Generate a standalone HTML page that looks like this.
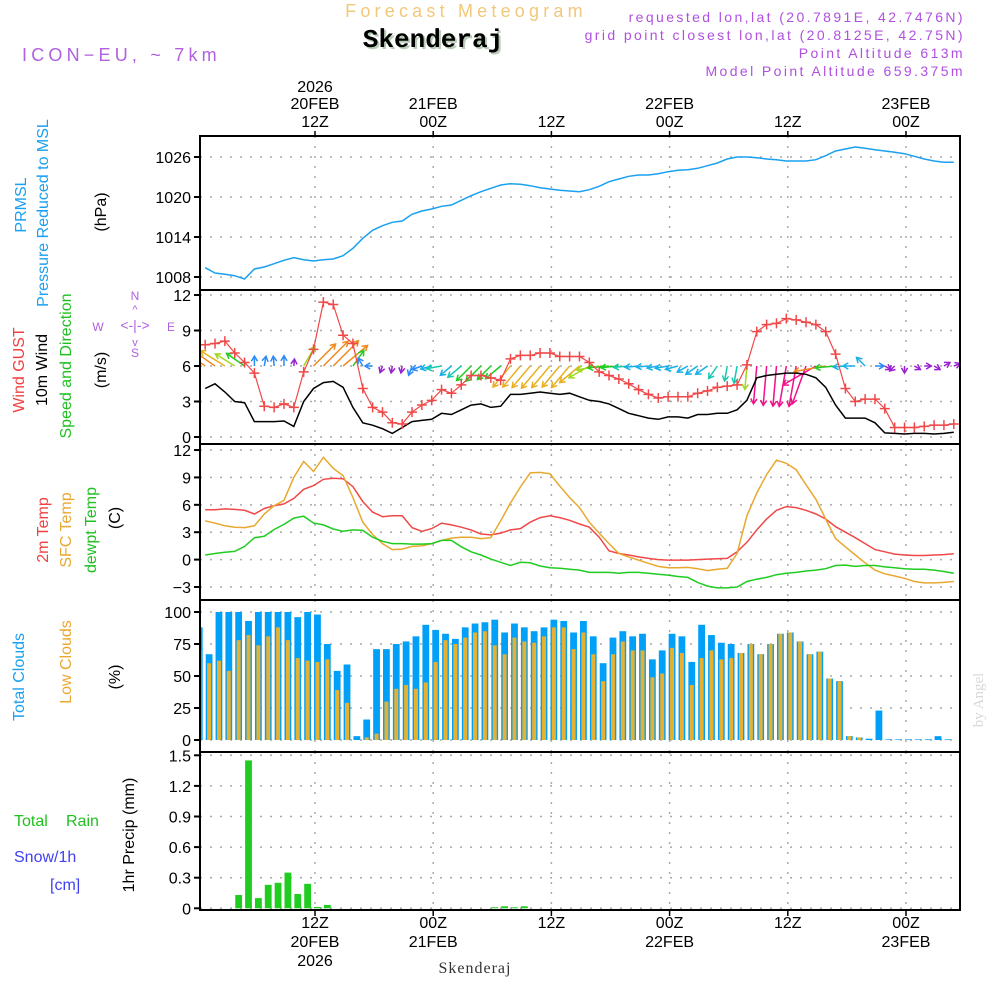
<!DOCTYPE html>
<html><head><meta charset="utf-8"><title>Meteogram Skenderaj</title>
<style>
html,body{margin:0;padding:0;background:#fff;}
svg{display:block;font-family:"Liberation Sans",sans-serif;}
</style></head>
<body>
<svg id="chart" width="1000" height="1000" viewBox="0 0 1000 1000" xmlns="http://www.w3.org/2000/svg">
<rect x="0" y="0" width="1000" height="1000" fill="#fff"/>
<text x="466" y="17" text-anchor="middle" font-size="18" fill="#f2c87a" letter-spacing="4.2">Forecast Meteogram</text>
<text x="435" y="49" text-anchor="middle" font-family="Liberation Mono,monospace" font-weight="bold" font-size="26" fill="#b8ccb8">Skenderaj</text>
<text x="433" y="47" text-anchor="middle" font-family="Liberation Mono,monospace" font-weight="bold" font-size="26" fill="#000">Skenderaj</text>
<text x="22" y="61" font-size="18" fill="#b060e0" letter-spacing="4.2">ICON−EU, ~ 7km</text>
<g font-size="14" fill="#b050e0" text-anchor="end" letter-spacing="2.4">
<text x="965" y="22">requested lon,lat (20.7891E, 42.7476N)</text>
<text x="965" y="40">grid point closest lon,lat (20.8125E, 42.75N)</text>
<text x="965" y="58">Point Altitude 613m</text>
<text x="965" y="76">Model Point Altitude 659.375m</text>
</g>
<g id="grid"></g>
<g id="marks"></g>
<g id="frames"></g>
<g id="labels" font-size="16"></g>
<g font-size="16">
<text transform="translate(26,205) rotate(-90)" text-anchor="middle" fill="#1aa0f0">PRMSL</text>
<text transform="translate(48,213) rotate(-90)" text-anchor="middle" fill="#1aa0f0">Pressure Reduced to MSL</text>
<text transform="translate(106,212) rotate(-90)" text-anchor="middle" fill="#000">(hPa)</text>
<text transform="translate(24,370) rotate(-90)" text-anchor="middle" fill="#f04040">Wind GUST</text>
<text transform="translate(47,370) rotate(-90)" text-anchor="middle" fill="#000">10m Wind</text>
<text transform="translate(71,366) rotate(-90)" text-anchor="middle" fill="#20c020">Speed and Direction</text>
<text transform="translate(106,370) rotate(-90)" text-anchor="middle" fill="#000">(m/s)</text>
<g fill="#b060e0" font-size="12" text-anchor="middle">
<text x="135" y="300">N</text><text x="135" y="357">S</text><text x="98" y="331">W</text><text x="171" y="331">E</text>
<text x="135" y="330" font-size="14">&lt;-|-&gt;</text>
<text x="135" y="313" font-size="11">^</text>
<text x="135" y="346" font-size="11">v</text>
</g>
<text transform="translate(48,530) rotate(-90)" text-anchor="middle" fill="#f04040">2m Temp</text>
<text transform="translate(71,530) rotate(-90)" text-anchor="middle" fill="#e8a830">SFC Temp</text>
<text transform="translate(96,530) rotate(-90)" text-anchor="middle" fill="#20c020">dewpt Temp</text>
<text transform="translate(120,518) rotate(-90)" text-anchor="middle" fill="#000">(C)</text>
<text transform="translate(24,677) rotate(-90)" text-anchor="middle" fill="#1aa0f0">Total Clouds</text>
<text transform="translate(71,662) rotate(-90)" text-anchor="middle" fill="#e8a830">Low Clouds</text>
<text transform="translate(120,677) rotate(-90)" text-anchor="middle" fill="#000">(%)</text>
<text x="14" y="826" fill="#20c020">Total</text>
<text x="66" y="826" fill="#20c020">Rain</text>
<text x="14" y="862" fill="#4040f0">Snow/1h</text>
<text x="50" y="890" fill="#4040f0">[cm]</text>
<text transform="translate(134,835) rotate(-90)" text-anchor="middle" fill="#000">1hr Precip (mm)</text>
<text transform="translate(983,700) rotate(-90)" text-anchor="middle" font-family="Liberation Serif,serif" font-size="15" fill="#d8d8d8">by Angel</text>
<text x="475" y="973" text-anchor="middle" font-family="Liberation Serif,serif" font-size="16" fill="#333" letter-spacing="1">Skenderaj</text>
</g>
</svg>
<script>
// ---- data ----
const pressure = [1009.4,1008.6,1008.4,1008.2,1007.7,1009.2,1009.5,1010,1010.5,1010.9,1010.6,1010.4,1010.6,1010.7,1011.2,1012.3,1013.8,1015,1015.7,1016.2,1016.4,1017.4,1017.9,1018.2,1018.6,1018.8,1019.5,1020.2,1020.8,1021.3,1021.8,1022,1021.9,1021.7,1021.4,1021.2,1021.0,1020.9,1020.8,1021.1,1021.6,1022.3,1022.7,1023.1,1023.3,1023.3,1023.5,1023.8,1024,1024.1,1024.3,1024.7,1025.1,1025.7,1026,1026,1025.9,1025.7,1025.6,1025.4,1025.4,1025.4,1025.6,1026.2,1026.9,1027.2,1027.5,1027.3,1027.1,1026.9,1026.7,1026.5,1026.1,1025.7,1025.4,1025.2,1025.2];
const gust = [7.8,7.9,8.1,7.1,6.3,5.4,2.6,2.5,2.8,2.5,5.5,7.4,11.4,11.2,8.6,7.9,4.1,2.5,2.1,1.2,1.1,2.1,2.7,3.1,4.0,3.7,4.4,5.2,5.2,5.0,4.8,6.6,6.9,6.9,7.1,7.1,6.8,6.8,6.8,6.3,5.5,5.2,4.9,4.5,4.0,3.6,3.3,3.4,3.4,3.4,3.7,3.9,4.2,4.3,4.4,6.1,8.9,9.5,9.6,10.0,9.9,9.7,9.5,8.9,7.0,4.1,3.0,3.2,3.2,2.4,0.8,0.8,0.8,0.9,1.0,1.0,1.1];
const wind10 = [4.1,4.5,3.8,3.0,2.9,1.3,1.3,1.3,1.35,0.9,3.0,4.1,4.6,4.7,4.2,2.5,1.2,1.0,0.7,0.3,0.8,1.3,1.4,1.5,2.0,1.9,2.3,2.7,2.8,2.5,2.6,3.6,3.6,3.7,3.8,3.7,3.6,3.7,3.4,3.1,3.0,2.8,2.4,2.0,1.8,1.6,1.5,1.7,1.7,1.6,1.9,1.9,2.0,2.0,2.3,3.1,5.0,5.2,5.3,5.4,5.4,5.3,5.0,4.2,2.7,1.6,1.6,1.6,1.2,0.35,0.3,0.25,0.3,0.3,0.25,0.3,0.4];
const windDir = [125,125,122,122,125,180,190,175,180,185,210,225,225,225,230,215,150,90,20,10,10,20,70,75,80,50,50,45,45,45,50,40,40,40,40,40,40,40,50,60,80,85,85,85,85,85,80,80,75,60,55,55,35,10,10,5,5,5,5,10,10,20,60,80,85,85,90,135,270,300,45,0,300,270,300,240,250];
const temp2m = [5.45,5.45,5.55,5.5,5.4,5.0,5.6,5.9,6.1,6.7,7.7,8.1,8.8,8.9,8.85,8.0,6.35,5.2,4.7,4.8,4.8,3.5,3.1,3.4,4.0,3.8,3.55,3.25,2.8,2.7,2.9,3.25,3.4,4.1,4.6,4.8,4.6,4.3,3.9,3.55,2.45,0.95,0.67,0.5,0.3,0.13,0.0,-0.05,-0.05,-0.05,0.0,0.05,0.1,0.13,0.85,1.9,3.25,4.45,5.4,5.8,5.7,5.4,5.0,4.45,3.6,3.0,2.4,1.75,1.1,0.85,0.6,0.5,0.45,0.45,0.5,0.55,0.65];
const tempSfc = [4.25,4.0,3.7,3.55,3.5,3.7,5.0,5.9,6.5,9.0,10.75,9.65,11.2,10.0,9.2,6.8,4.1,2.75,1.75,1.1,1.15,1.45,1.5,1.75,2.1,2.35,2.45,2.45,2.3,2.4,4.25,6.2,7.95,9.5,9.55,9.4,8.05,6.8,5.7,4.1,2.9,1.75,0.67,0.3,-0.05,-0.4,-0.75,-0.9,-0.9,-0.85,-1.0,-1.2,-1.05,-0.95,0.67,4.8,7.3,9.3,10.9,10.55,9.85,8.2,6.6,4.45,2.3,1.4,0.5,-0.35,-1.15,-1.55,-1.8,-2.05,-2.4,-2.55,-2.55,-2.5,-2.4];
const dewpoint = [0.5,0.67,0.8,0.9,1.45,2.4,2.55,3.3,3.85,4.55,4.75,4.0,3.8,3.35,3.1,3.25,3.2,2.45,2.0,1.75,1.75,1.7,1.7,1.75,2.1,2.1,1.4,0.85,0.5,0.05,-0.3,-0.65,-0.3,-0.35,-0.7,-0.9,-0.95,-1.05,-1.15,-1.4,-1.4,-1.4,-1.5,-1.4,-1.4,-1.5,-1.6,-1.7,-1.85,-1.95,-2.5,-2.9,-3.1,-3.1,-3.0,-2.4,-2.15,-1.95,-1.65,-1.5,-1.4,-1.25,-1.15,-1.0,-0.65,-0.6,-0.75,-0.65,-0.65,-0.8,-0.9,-1.0,-1.05,-1.05,-1.15,-1.3,-1.5];
const totalClouds = [88,67,100,100,100,93,100,100,100,100,96,100,98,75,54,59,3,16,71,71,75,77,81,90,86,83,79,88,91,92,94,84,91,88,85,88,94,93,84,93,81,60,80,85,81,83,63,70,83,81,61,90,82,76,75,68,75,67,75,83,84,77,67,69,48,46,3,2,1,23,0.5,0.5,0.5,0.5,0.5,3,0.5];
const lowClouds = [70,60,62,54,78,82,74,81,88,78,64,62,61,63,39,29,0,2,5,30,40,43,40,45,61,78,75,80,84,85,74,67,80,77,76,81,88,88,71,84,67,46,67,77,70,70,49,52,72,68,43,64,70,63,64,68,75,67,75,83,84,77,67,69,48,46,3,2,0,0,0,0,0,0,0,0,0];
const precip = [0,0,0,0,0.13,1.45,0.10,0.23,0.25,0.35,0.14,0.24,0.013,0.033,0,0,0,0,0,0,0,0,0,0,0,0,0,0,0,0,0.01,0.02,0.01,0.02];
const pressTicks = [1008,1014,1020,1026];
const windTicks = [0,3,6,9,12];
const tempTicks = [-3,0,3,6,9,12];
const cloudTicks = [0,25,50,75,100];
const precipTicks = ['0','0.3','0.6','0.9','1.2','1.5'];
const timeTicksHours = [12,24,36,48,60,72];
const timeTickHour = ['12Z','00Z','12Z','00Z','12Z','00Z'];
const timeTickDate = ['20FEB','21FEB','','22FEB','','23FEB'];

// ---- axes ----
const PL=200, PR=960;
const X = t => 196.8 + 9.85*t;
const lineT = j => j + 0.85;
const barT = k => k + 0.25;
const panels = [
  {top:136,bot:290,y:v=>157+(1026-v)*40/6},
  {top:290,bot:444,y:v=>437-v*142/12},
  {top:444,bot:600,y:v=>559.6-v*9.13},
  {top:600,bot:752,y:v=>740-v*1.28},
  {top:752,bot:910,y:v=>908.3-v*102}
];
const yP=panels[0].y,yW=panels[1].y,yT=panels[2].y,yC=panels[3].y,yR=panels[4].y;
const NS='http://www.w3.org/2000/svg';
function mk(tag,attrs,parent){const e=document.createElementNS(NS,tag);for(const k in attrs)e.setAttribute(k,attrs[k]);parent.appendChild(e);return e;}
const grid=document.getElementById('grid'),marks=document.getElementById('marks'),frames=document.getElementById('frames'),labels=document.getElementById('labels');

const defs=mk('defs',{},document.getElementById('chart'));
panels.forEach((p,i)=>{const c=mk('clipPath',{id:'clip'+i},defs);mk('rect',{x:PL,y:p.top,width:PR-PL,height:p.bot-p.top},c);});

const tickSets=[pressTicks,windTicks,tempTicks,cloudTicks,precipTicks.map(Number)];
const tickText=[pressTicks.map(String),windTicks.map(String),tempTicks.map(v=>v<0?'−'+(-v):String(v)),cloudTicks.map(String),precipTicks];
panels.forEach((p,i)=>{
  tickSets[i].forEach((v,n)=>{
    const y=p.y(v);
    const g=mk('line',{x1:PL,x2:PR,y1:y,y2:y,stroke:'#aaa','stroke-width':1.5,'stroke-dasharray':'2 8'},grid);
    
    
    mk('line',{x1:PL-6,x2:PL,y1:y,y2:y,stroke:'#000','stroke-width':2},frames);
    const t=mk('text',{x:PL-9,y:y+6,'text-anchor':'end'},labels);
    t.textContent=tickText[i][n];
    
    
  });
  timeTicksHours.forEach(h=>{
    const x=X(h);
    const g=mk('line',{x1:x,x2:x,y1:p.top,y2:p.bot,stroke:'#aaa','stroke-width':1.5,'stroke-dasharray':'2 8'},grid);
    
    
  });
  const f=mk('rect',{x:PL,y:p.top,width:PR-PL,height:p.bot-p.top,fill:'none',stroke:'#000','stroke-width':2},frames);
  
  
});
timeTicksHours.forEach((h,i)=>{
  const x=X(h);
  mk('line',{x1:x,x2:x,y1:131,y2:136,stroke:'#000','stroke-width':1.5},frames);
  mk('line',{x1:x,x2:x,y1:910,y2:916,stroke:'#000','stroke-width':1.5},frames);
  const a=mk('text',{x:x,y:127,'text-anchor':'middle'},labels);a.textContent=timeTickHour[i];
  
  
  const b=mk('text',{x:x,y:928,'text-anchor':'middle'},labels);b.textContent=timeTickHour[i];
  
  
  if(timeTickDate[i]){
    const c=mk('text',{x:x,y:109,'text-anchor':'middle'},labels);c.textContent=timeTickDate[i];
    
    
    const d=mk('text',{x:x,y:947,'text-anchor':'middle'},labels);d.textContent=timeTickDate[i];
    
    
  }
  if(i===0){
    const e=mk('text',{x:x,y:92,'text-anchor':'middle'},labels);e.textContent='2026';
    
    
    const f=mk('text',{x:x,y:966,'text-anchor':'middle'},labels);f.textContent='2026';
    
    
  }
});

function polyline(arr,yf,color,name,clip,w){
  const pts=arr.map((v,j)=>X(lineT(j)).toFixed(1)+','+yf(v).toFixed(1)).join(' ');
  const g=mk('g',{'clip-path':'url(#clip'+clip+')'},marks);
  const l=mk('polyline',{points:pts,fill:'none',stroke:color,'stroke-width':w||1.5},g);
  
  
  return g;
}
polyline(pressure,yP,'#1aa0f0','pressure-line',0);
const gc=mk('g',{'clip-path':'url(#clip3)'},marks);
totalClouds.forEach((v,k)=>{
  const x=X(barT(k));
  const r=mk('rect',{x:x-3.4,y:yC(v),width:6.8,height:yC(0)-yC(v),fill:'#00a0f8'},gc);
  
  
});
lowClouds.forEach((v,k)=>{
  if(v<=0)return;
  const x=X(barT(k));
  const r=mk('rect',{x:x-2,y:yC(v),width:4,height:yC(0)-yC(v),fill:'#e6b030'},gc);
  
  
});
const gr=mk('g',{'clip-path':'url(#clip4)'},marks);
precip.forEach((v,k)=>{
  if(v<=0)return;
  const x=X(barT(k));
  const r=mk('rect',{x:x-3.4,y:yR(v),width:6.8,height:yR(0)-yR(v),fill:'#20cc20'},gr);
  
  
});
polyline(temp2m,yT,'#f04848','temp-2m-line',2);
polyline(tempSfc,yT,'#e8a830','temp-sfc-line',2);
polyline(dewpoint,yT,'#20cc20','dewpoint-line',2);
function windColor(s){
  if(s<1.0)return '#9a20d0';
  if(s<1.45)return '#2a8af8';
  if(s<2.0)return '#18b0e8';
  if(s<2.4)return '#18c8b0';
  if(s<3.0)return '#20cc20';
  if(s<3.3)return '#a0d820';
  if(s<4.0)return '#e8b020';
  if(s<5.0)return '#f08a20';
  return '#f0108a';
}
const gw=mk('g',{'clip-path':'url(#clip1)'},marks);
const base=yW(6);
windDir.forEach((d,j)=>{
  const s=wind10[j];const x=X(lineT(j));
  const L=Math.max(7,s*7.6);
  const rad=(d+180)*Math.PI/180;
  const dx=Math.sin(rad)*L, dy=-Math.cos(rad)*L;
  const col=windColor(s);
  const g=mk('g',{stroke:col,'stroke-width':1.5,fill:'none'},gw);
  
  
  mk('line',{x1:x,y1:base,x2:x+dx,y2:base+dy},g);
  const ang=Math.atan2(dy,dx),h=6;
  const tx=x+dx,ty=base+dy;
  mk('polyline',{points:`${tx+h*Math.cos(ang+2.6)},${ty+h*Math.sin(ang+2.6)} ${tx},${ty} ${tx+h*Math.cos(ang-2.6)},${ty+h*Math.sin(ang-2.6)}`},g);
});
polyline(wind10,yW,'#000','wind-10m-line',1,1.5);
polyline(gust,yW,'#f04848','wind-gust-line',1,1.2);
const gg=mk('g',{stroke:'#f04848','stroke-width':1.5,'clip-path':'url(#clip1)'},marks);
gust.forEach((v,j)=>{
  const x=X(lineT(j)),y=yW(v);
  const p=mk('path',{d:`M${x-5},${y}H${x+5}M${x},${y-5}V${y+5}`},gg);
  
  
});
</script>
</body></html>
